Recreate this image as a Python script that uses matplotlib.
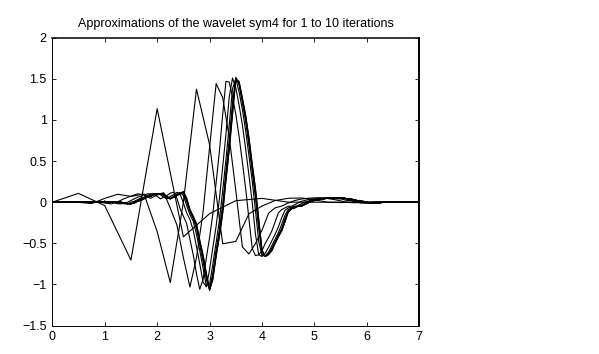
import numpy as np
import matplotlib
matplotlib.use('Agg')
import matplotlib.pyplot as plt

# psi approximations of sym4, read at the iteration's own grid (it1..it3)
# and every 1/16 along x for the later iterations
it1 = [0, .107, -.042, -.704, 1.137, -.421, -.14, .018, .046, 0, 0, 0, 0, 0, 0]
it2 = [0, .005, -.002, -.017, .046, .096, .07, .098, -.358, -.977, -.004, 1.374, .7, -.506, -.478,
       -.142, -.047, .02, .047, .051, .03, -.002, -.005, 0, 0, 0, 0, 0, 0]
it3 = [0, 0, 0, -.001, .002, .005, .003, .002, -.01, -.021, .006, .043, .073, .101, .09, .046, .087,
       .115, -.072, -.274, -.674, -1.032, -.675, -.125, .668, 1.441, 1.272, .788, .141, -.544, -.63,
       -.504, -.341, -.134, -.069, -.048, -.01, .02, .038, .047, .052, .052, .044, .032, .015, -.003,
       -.007, -.005, -.003, 0, .001, 0, 0, 0, 0, 0, 0]
it4 = [0, 0, 0, 0, 0, 0, 0, 0, 0, 0, 0, 0, 0, .01, 0, 0, 0, 0, 0, -.01, -.02, -.02, -.01, 0, .02, .04,
       .06, .07, .09, .1, .1, .1, .07, .04, .06, .08, .11, .12, .05, -.08, -.17, -.26, -.45, -.64, -.87,
       -1.06, -.94, -.68, -.43, -.14, .24, .62, 1.07, 1.47, 1.46, 1.28, 1.07, .8, .49, .17, -.2, -.56,
       -.65, -.64, -.59, -.5, -.43, -.35, -.24, -.13, -.09, -.07, -.05, -.05, -.03, -.01, .01, .02, .03,
       .04, .04, .05, .05, .05, .05, .05, .05, .04, .04, .03, .02, .02, .01, 0, -.01, -.01, -.01, -.01,
       0, 0, 0, 0, 0, 0, 0, 0, 0, 0, 0, 0, 0, 0, 0]
it5 = [0, 0, 0, 0, 0, 0, 0, 0, 0, 0, 0, 0, 0, 0, 0, .01, 0, 0, 0, 0, -.01, -.01, -.02, -.02, 0, .01, .03,
       .05, .06, .08, .1, .1, .1, .09, .06, .04, .07, .09, .12, .1, -.01, -.13, -.21, -.34, -.54, -.75,
       -.97, -1.03, -.82, -.55, -.29, .04, .43, .83, 1.28, 1.51, 1.39, 1.18, .94, .65, .33, 0, -.39,
       -.64, -.66, -.62, -.55, -.47, -.39, -.3, -.19, -.1, -.07, -.06, -.05, -.04, -.02, 0, .01, .03,
       .03, .04, .04, .05, .05, .05, .05, .05, .05, .04, .04, .03, .02, .01, 0, -.01, -.01, -.01, -.01,
       0, 0, 0, 0, 0, 0, 0, 0, 0, 0, 0, 0, 0, 0]
it6 = [0, 0, 0, 0, 0, 0, 0, 0, 0, 0, 0, 0, 0, 0, 0, 0, .01, 0, 0, 0, 0, -.01, -.01, -.02, -.02, 0,
       .02, .04, .05, .07, .08, .1, .1, .1, .08, .05, .05, .07, .1, .12, .08, -.04, -.15, -.23,
       -.39, -.59, -.8, -1.02, -1, -.75, -.49, -.22, .14, .52, .94, 1.38, 1.5, 1.34, 1.13, .87,
       .57, .26, -.1, -.48, -.65, -.65, -.61, -.53, -.45, -.37, -.27, -.16, -.09, -.07, -.06,
       -.05, -.04, -.02, 0, .02, .03, .04, .04, .05, .05, .05, .05, .05, .05, .05, .04, .03, .03,
       .02, .01, 0, -.01, -.01, -.01, -.01, 0, 0, 0, 0, 0, 0, 0, 0, 0, 0, 0, 0, 0]
it7 = [0, 0, 0, 0, 0, 0, 0, 0, 0, 0, 0, 0, 0, 0, 0, 0, .01, 0, 0, 0, 0, 0, -.01, -.02, -.02, -.01, .01,
       .03, .05, .06, .08, .09, .1, .1, .09, .06, .04, .06, .09, .11, .11, .01, -.12, -.2, -.32, -.52,
       -.72, -.94, -1.05, -.86, -.58, -.33, -.02, .38, .77, 1.21, 1.52, 1.42, 1.21, .98, .69, .37, .05,
       -.33, -.63, -.66, -.62, -.56, -.48, -.4, -.32, -.2, -.11, -.08, -.06, -.05, -.04, -.02, 0, .01,
       .02, .03, .04, .04, .05, .05, .05, .05, .05, .05, .04, .04, .03, .02, .01, 0, 0, -.01, -.01, -.01,
       -.01, 0, 0, 0, 0, 0, 0, 0, 0, 0, 0, 0, 0]
it8 = [0, 0, 0, 0, 0, 0, 0, 0, 0, 0, 0, 0, 0, 0, 0, 0, .01, 0, 0, 0, 0, 0, -.01, -.02, -.02, -.01, .01,
       .03, .05, .06, .07, .09, .1, .1, .09, .07, .04, .06, .08, .11, .12, .03, -.1, -.18, -.28, -.49,
       -.67, -.89, -1.07, -.9, -.63, -.38, -.09, .31, .69, 1.13, 1.51, 1.45, 1.24, 1.03, .75, .43, .12,
       -.26, -.6, -.66, -.63, -.58, -.49, -.41, -.34, -.22, -.12, -.08, -.06, -.05, -.05, -.03, -.01,
       .01, .02, .03, .04, .04, .05, .05, .05, .05, .05, .05, .04, .04, .03, .02, .01, 0, 0, -.01, -.01,
       -.01, -.01, 0, 0, 0, 0, 0, 0, 0, 0, 0, 0, 0, 0]
it9 = [0, 0, 0, 0, 0, 0, 0, 0, 0, 0, 0, 0, 0, 0, 0, 0, .01, 0, 0, 0, 0, 0, -.01, -.02, -.02, -.01, .01,
       .02, .04, .06, .07, .09, .1, .1, .1, .07, .04, .06, .08, .1, .13, .04, -.09, -.18, -.27, -.47,
       -.65, -.87, -1.07, -.93, -.65, -.41, -.12, .28, .65, 1.09, 1.5, 1.46, 1.26, 1.05, .78, .46, .15,
       -.22, -.59, -.66, -.63, -.59, -.5, -.42, -.35, -.24, -.12, -.08, -.07, -.05, -.05, -.03, -.01,
       .01, .02, .03, .04, .04, .05, .05, .05, .05, .05, .05, .04, .04, .03, .02, .02, .01, 0, -.01,
       -.01, -.01, -.01, 0, 0, 0, 0, 0, 0, 0, 0, 0, 0, 0, 0]
it10 = [0, 0, 0, 0, 0, 0, 0, 0, 0, 0, 0, 0, 0, 0, 0, 0, .01, 0, 0, 0, 0, 0, -.01, -.02, -.02, -.01, .01,
        .02, .04, .06, .07, .09, .1, .1, .1, .07, .04, .06, .08, .1, .13, .05, -.09, -.17, -.26, -.46,
        -.64, -.86, -1.07, -.94, -.66, -.42, -.14, .26, .63, 1.06, 1.49, 1.47, 1.27, 1.06, .79, .47, .17,
        -.2, -.58, -.66, -.64, -.59, -.5, -.42, -.35, -.24, -.12, -.08, -.07, -.05, -.05, -.03, -.01,
        .01, .02, .03, .04, .04, .05, .05, .05, .05, .05, .05, .04, .04, .03, .02, .02, .01, 0, -.01,
        -.01, -.01, -.01, 0, 0, 0, 0, 0, 0, 0, 0, 0, 0, 0, 0]

yticks = [-1.5, -1, -0.5, 0, 0.5, 1, 1.5, 2]
ytick_labels = ['\u22121.5', '\u22121', '\u22120.5', '0', '0.5', '1', '1.5', '2']

plt.rcParams['font.family'] = ['Liberation Sans', 'DejaVu Sans']
fig = plt.figure(figsize=(5.99, 3.54), dpi=100)
ax = fig.add_axes([0.0873, 0.0805, 0.6127, 0.813])

## one line per iteration, all on the same support [0, 7]
for psi in [it1, it2, it3, it4, it5, it6, it7, it8, it9, it10]:
    xval = np.linspace(0, 7, len(psi))
    ax.plot(xval, psi, color='k', lw=0.8)

ax.set_xlim(0, 7)
ax.set_ylim(-1.5, 2)
ax.set_xticks(range(8))
ax.set_yticks(yticks)
ax.set_yticklabels(ytick_labels)
ax.tick_params(direction='in', top=True, right=True, length=3, width=0.6, labelsize=9, pad=4)
ax.spines['left'].set_linewidth(0.7)
ax.spines['bottom'].set_linewidth(0.7)
ax.spines['top'].set_linewidth(1.1)
ax.spines['right'].set_linewidth(1.4)
ax.set_title('Approximations of the wavelet sym4 for 1 to 10 iterations', fontsize=9, pad=8)

fig.savefig('out.png', dpi=100)
